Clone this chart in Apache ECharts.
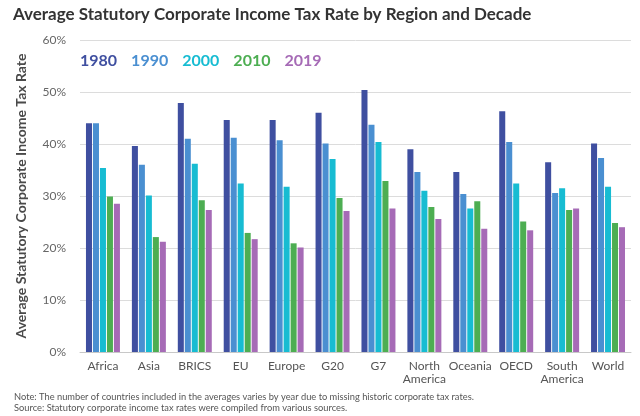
<!DOCTYPE html>
<html>
<head>
<meta charset="utf-8">
<script src="https://cdn.jsdelivr.net/npm/echarts@6/dist/echarts.min.js"></script>
<style>
    html, body { margin: 0; padding: 0; background: #fff; }
    #chart { width: 640px; height: 416px; }
</style>
</head>
<body>
<div id="chart"></div>
<script>
// values in percent
var regions = ['Africa', 'Asia', 'BRICS', 'EU', 'Europe', 'G20', 'G7', 'North\nAmerica', 'Oceania', 'OECD', 'South\nAmerica', 'World'];
var decades = ['1980', '1990', '2000', '2010', '2019'];
var rate1980 = [44.0, 39.6, 47.9, 44.6, 44.6, 46.0, 50.4, 39.0, 34.6, 46.3, 36.5, 40.1];
var rate1990 = [44.0, 36.0, 41.0, 41.2, 40.7, 40.1, 43.7, 34.6, 30.4, 40.4, 30.6, 37.3];
var rate2000 = [35.4, 30.1, 36.2, 32.4, 31.8, 37.1, 40.4, 31.0, 27.6, 32.4, 31.5, 31.8];
var rate2010 = [29.9, 22.1, 29.2, 22.9, 20.9, 29.6, 32.9, 27.9, 29.0, 25.1, 27.3, 24.8];
var rate2019 = [28.5, 21.2, 27.3, 21.7, 20.1, 27.1, 27.6, 25.6, 23.7, 23.4, 27.6, 24.0];
var yTicks = [0, 10, 20, 30, 40, 50, 60];

var colors = ['#3f4fa0', '#4a8fd1', '#17bcd2', '#4dae52', '#a66bb6'];
var allRates = [rate1980, rate1990, rate2000, rate2010, rate2019];

var chart = echarts.init(document.getElementById('chart'));

var series = [];
for (var i = 0; i < decades.length; i++) {
    series.push({
        name: decades[i],
        type: 'bar',
        data: allRates[i],
        itemStyle: { color: colors[i] },
        barGap: '16%',
        barCategoryGap: '26%'
    });
}

var legendData = decades.map(function (d, i) {
    return { name: d, icon: 'none', textStyle: { color: colors[i] } };
});

var option = {
    animation: false,
    textStyle: { fontFamily: 'Lato' },
    title: {
        text: 'Average Statutory Corporate Income Tax Rate by Region and Decade',
        left: 8,
        top: 1,
        textStyle: { fontFamily: 'Lato', fontWeight: 'bold', fontSize: 17, color: '#333' }
    },
    legend: {
        data: legendData,
        left: 70,
        top: 48,
        itemWidth: 0,
        itemHeight: 0,
        itemGap: 9,
        selectedMode: false,
        textStyle: { fontFamily: 'Lato', fontWeight: 'bold', fontSize: 16 }
    },
    grid: { left: 80, right: 9, top: 40, bottom: 64 },
    xAxis: {
        type: 'category',
        data: regions,
        axisLine: { lineStyle: { color: '#c8c8c8' } },
        axisTick: { show: false },
        axisLabel: { color: '#555', fontSize: 12, lineHeight: 13, margin: 8, interval: 0 }
    },
    yAxis: {
        type: 'value',
        min: yTicks[0],
        max: yTicks[yTicks.length - 1],
        interval: 10,
        name: 'Average Statutory Corporate Income Tax Rate',
        nameLocation: 'middle',
        nameGap: 52,
        nameTextStyle: { fontFamily: 'Lato', fontWeight: 'bold', fontSize: 14, color: '#4a4a4a' },
        axisLabel: { formatter: '{value}%', color: '#666', fontSize: 12, margin: 14 },
        splitLine: { lineStyle: { color: '#dcdcdc' } },
        axisLine: { show: false },
        axisTick: { show: false }
    },
    graphic: [
        {
            type: 'text', left: 14, top: 392,
            style: { text: 'Note: The number of countries included in the averages varies by year due to missing historic corporate tax rates.', fill: '#555', font: '9.3px Lato' }
        },
        {
            type: 'text', left: 14, top: 403,
            style: { text: 'Source: Statutory corporate income tax rates were compiled from various sources.', fill: '#555', font: '9.3px Lato' }
        }
    ],
    series: series
};

chart.setOption(option);
</script>
</body>
</html>
